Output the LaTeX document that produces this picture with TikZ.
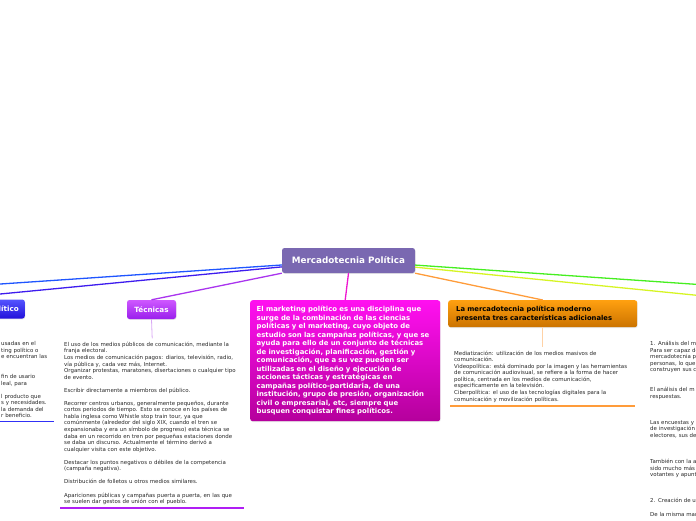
\documentclass[tikz,border=0pt]{standalone}
\usepackage{fontspec}
\setmainfont{DejaVu Sans}
\usepackage{tikz}
\usetikzlibrary{positioning, shadows}
\definecolor{mpCenter}{HTML}{7A68B1}
\definecolor{mpBlue}{HTML}{1F55FF}
\definecolor{mpIndigo}{HTML}{3E1CEE}
\definecolor{mpViolet}{HTML}{A934EE}
\definecolor{mpMagenta}{HTML}{EE16D0}
\definecolor{mpOrange}{HTML}{FF9C3A}
\definecolor{mpGreen}{HTML}{46EE20}
\definecolor{mpLime}{HTML}{D6F424}
\definecolor{blueTop}{HTML}{5454FF}
\definecolor{blueBottom}{HTML}{2210DA}
\definecolor{blueLine}{HTML}{3030F6}
\definecolor{violetTop}{HTML}{CE58FF}
\definecolor{violetBottom}{HTML}{9A1FEC}
\definecolor{violetLine}{HTML}{B01EF4}
\definecolor{magentaTop}{HTML}{FF10F0}
\definecolor{magentaBottom}{HTML}{B5009C}
\definecolor{orangeTop}{HTML}{FFA010}
\definecolor{orangeBottom}{HTML}{CB7300}
\definecolor{stemViolet}{HTML}{D9A8F4}
\definecolor{stemOrange}{HTML}{FFD2A6}

\begin{document}
\begin{tikzpicture}[x=1pt, y=-1pt,
  topic/.style={rounded corners=2.5pt, text=white, minimum height=19pt, font=\bfseries\fontsize{7.2}{8}\selectfont, drop shadow={shadow xshift=0.5pt, shadow yshift=-0.8pt, opacity=0.2}},
  note/.style={anchor=north west, align=left, inner xsep=4pt, inner ysep=3.4pt, text=black!85, font=\fontsize{5.45}{6.55}\selectfont},
  branch/.style={line width=1.3pt},
  stem/.style={line width=0.8pt},
  underline/.style={line width=1.9pt}]
\useasboundingbox (0,0) rectangle (696,520);
\clip (0,0) rectangle (696,520);

% central topic and main branches
\node[topic, fill=mpCenter, minimum width=133pt, minimum height=25pt, font=\bfseries\fontsize{8.8}{10}\selectfont] (mercadotecnia) at (348.5,260.5) {Mercadotecnia Política};
\node[topic, top color=blueTop, bottom color=blueBottom, anchor=east, inner xsep=6pt] (marketing) at (25,309) {lítico};
\node[topic, top color=violetTop, bottom color=violetBottom, minimum width=49pt] (tecnicas) at (151.5,309.5) {Técnicas};
\node[topic, top color=magentaTop, bottom color=magentaBottom, anchor=north west, minimum width=190pt, minimum height=121pt, text width=177pt, inner xsep=6.5pt, align=left, font=\bfseries\fontsize{6.9}{8.5}\selectfont] (definicion) at (250,300)
  {El marketing político es una disciplina que\\surge de la combinación de las ciencias\\políticas y el marketing, cuyo objeto de\\estudio son las campañas políticas, y que se\\ayuda para ello de un conjunto de técnicas\\de investigación, planificación, gestión y\\comunicación, que a su vez pueden ser\\utilizadas en el diseño y ejecución de\\acciones tácticas y estratégicas en\\campañas político-partidaria, de una\\institución, grupo de presión, organización\\civil o empresarial, etc, siempre que\\busquen conquistar fines políticos.};
\node[topic, top color=orangeTop, bottom color=orangeBottom, text=black, anchor=north west, minimum width=189pt, minimum height=27pt, text width=173pt, inner xsep=8pt, align=left, font=\bfseries\fontsize{6.8}{9}\selectfont] (caracteristicas) at (448,300)
  {La mercadotecnia política moderno\\presenta tres características adicionales};

\coordinate (finAzul) at (-4,284.3);
\coordinate (finIndigo) at (-4,294.4);
\coordinate (finVerde) at (700,284.6);
\coordinate (finLima) at (700,295.6);

\draw[branch, mpBlue] (mercadotecnia) -- (finAzul);
\draw[branch, mpIndigo] (mercadotecnia) -- (finIndigo);
\draw[branch, mpViolet] (mercadotecnia.south west) -- (tecnicas.north);
\draw[branch, mpMagenta] (mercadotecnia.south) -- (definicion.north);
\draw[branch, mpOrange] (mercadotecnia.south east) -- (caracteristicas.north);
\draw[branch, mpGreen] (mercadotecnia) -- (finVerde);
\draw[branch, mpLime] (mercadotecnia) -- (finLima);

% notes under the topics
\node[note, text width=49pt] (marketingNotas) at (-3,338)
  {usadas en el\\ting político o\\e encuentran las\\[13.1pt]fin de usario\\leal, para\\[6.55pt]l producto que\\s y necesidades.\\la demanda del\\r beneficio.};
\node[note, text width=176pt] (tecnicasNotas) at (60,338.4)
  {El uso de los medios públicos de comunicación, mediante la\\franja electoral.\\Los medios de comunicación pagos: diarios, televisión, radio,\\vía pública y, cada vez más, Internet.\\Organizar protestas, maratones, disertaciones o cualquier tipo\\de evento.\\[6.55pt]Escribir directamente a miembros del público.\\[6.55pt]Recorrer centros urbanos, generalmente pequeños, durante\\cortos periodos de tiempo. Esto se conoce en los países de\\habla inglesa como Whistle stop train tour, ya que\\comúnmente (alrededor del siglo XIX, cuando el tren se\\expansionaba y era un símbolo de progreso) esta técnica se\\daba en un recorrido en tren por pequeñas estaciones donde\\se daba un discurso. Actualmente el término derivó a\\cualquier visita con este objetivo.\\[6.55pt]Destacar los puntos negativos o débiles de la competencia\\(campaña negativa).\\[6.55pt]Distribución de folletos u otros medios similares.\\[6.55pt]Apariciones públicas y campañas puerta a puerta, en las que\\se suelen dar gestos de unión con el pueblo.};
\node[note, text width=177pt] (caracteristicasNotas) at (450,347.2)
  {Mediatización: utilización de los medios masivos de\\comunicación.\\Videopolítica: está dominado por la imagen y las herramientas\\de comunicación audiovisual, se refiere a la forma de hacer\\política, centrada en los medios de comunicación,\\especificamente en la televisión.\\Ciberpolítica: el uso de las tecnologías digitales para la\\comunicación y movilización políticas.};
\node[note, text width=60pt] (derechaNotas) at (646,337.8)
  {1. Análisis del m\\Para ser capaz de\\mercadotecnia p\\personas, lo que\\construyen sus c\\[13.1pt]El análisis del m\\respuestas.\\[19.65pt]Las encuestas y\\de investigación\\electores, sus de\\[19.65pt]También con la a\\sido mucho más\\votantes y apunt\\[19.65pt]2. Creación de u\\[6.55pt]De la misma mar};

\draw[stem, stemViolet] (tecnicas.south) -- (tecnicasNotas.north);
\draw[stem, stemOrange] (caracteristicas.south) -- (caracteristicasNotas.north);

\draw[underline, blueLine] (marketingNotas.south west) -- (marketingNotas.south east);
\draw[underline, violetLine] (tecnicasNotas.south west) -- (tecnicasNotas.south east);
\draw[underline, mpOrange] (caracteristicasNotas.south west) -- (caracteristicasNotas.south east);
\end{tikzpicture}
\end{document}
